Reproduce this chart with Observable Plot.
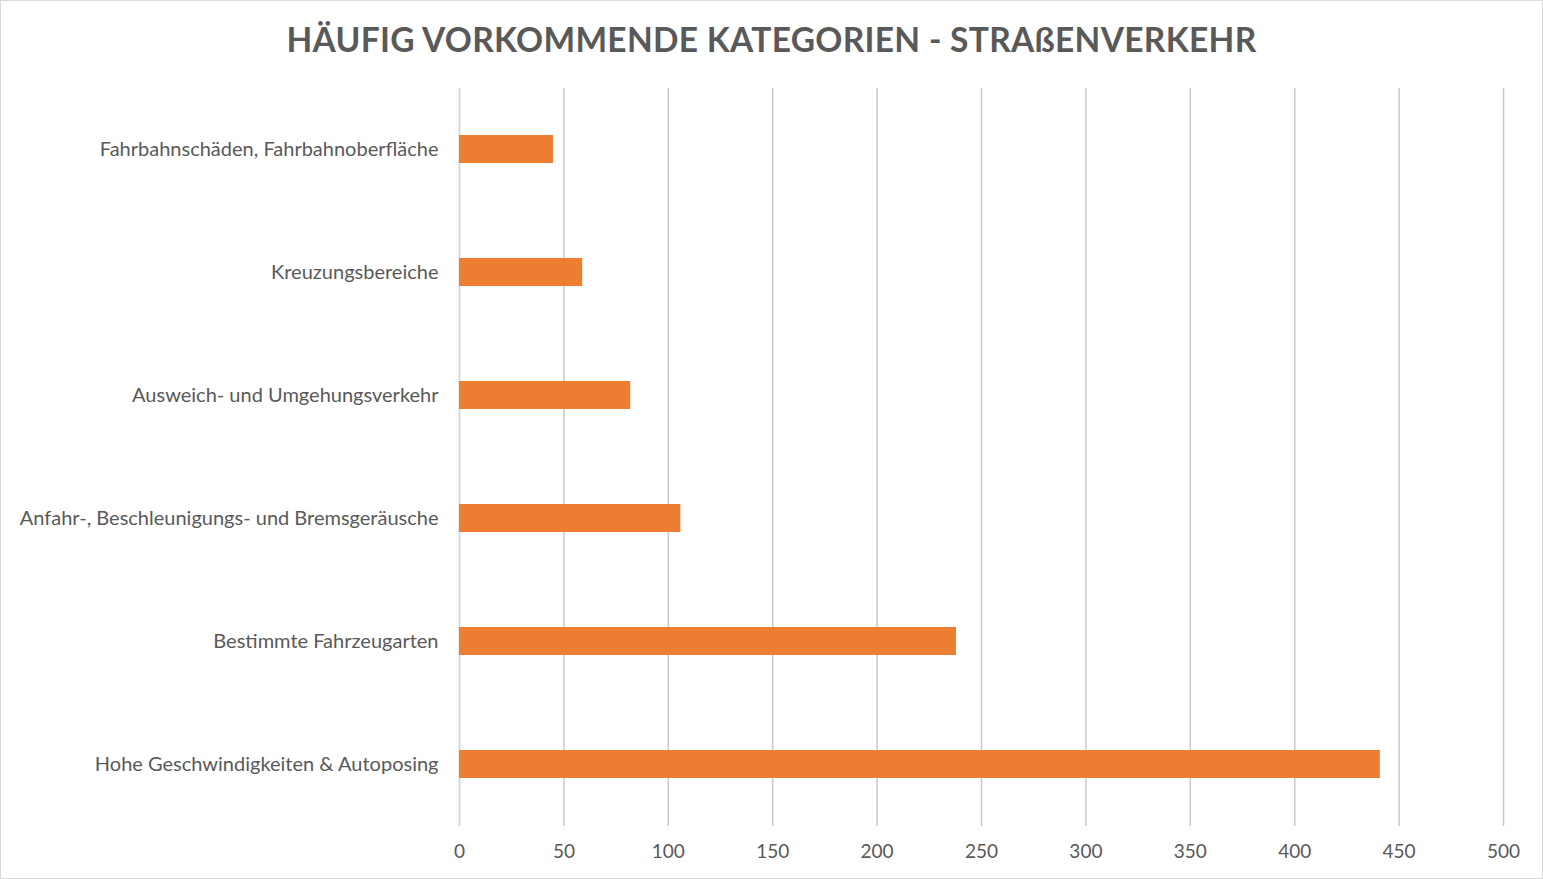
<!DOCTYPE html>
<html>
<head>
<meta charset="utf-8">
<script src="https://cdn.jsdelivr.net/npm/d3@7"></script>
<script src="https://cdn.jsdelivr.net/npm/@observablehq/plot@0.6"></script>
<style>
  html, body { margin: 0; padding: 0; background: #fff; }
  #frame { position: absolute; left: 0; top: 0; width: 1541px; height: 877px; border: 1px solid #d9d9d9; overflow: hidden; }
  #title { height: 80px; line-height: 76px; text-align: center; font-family: Lato, sans-serif; font-weight: 700; font-size: 33.5px; color: #595959; letter-spacing: 0.3px; }
  #chart svg { display: block; }
</style>
</head>
<body>
<div id="frame">
  <div id="title">HÄUFIG VORKOMMENDE KATEGORIEN - STRAßENVERKEHR</div>
  <div id="chart"></div>
</div>
<script>
const categories = [
  "Fahrbahnschäden, Fahrbahnoberfläche",
  "Kreuzungsbereiche",
  "Ausweich- und Umgehungsverkehr",
  "Anfahr-, Beschleunigungs- und Bremsgeräusche",
  "Bestimmte Fahrzeugarten",
  "Hohe Geschwindigkeiten & Autoposing"
];
const values = [45, 59, 82, 106, 238, 441];
const xTicks = [0, 50, 100, 150, 200, 250, 300, 350, 400, 450, 500];

const data = categories.map((c, i) => ({category: c, value: values[i]}));

const chart = Plot.plot({
  width: 1541,
  height: 796,
  marginTop: 7,
  marginBottom: 51,
  marginLeft: 458,
  marginRight: 39,
  style: {fontFamily: "Lato, sans-serif", fontSize: "20px", color: "#595959", background: "#fff"},
  x: {domain: [0, 500], ticks: xTicks, label: null, tickSize: 0},
  y: {domain: categories, label: null, tickSize: 0, paddingInner: 0.77, paddingOuter: 0.385},
  marks: [
    Plot.ruleX(xTicks, {x: d => d, stroke: d => d === 0 ? "#d9d9d9" : "#c8c8c8", strokeWidth: d => d === 0 ? 2 : 1.5}),
    Plot.barX(data, {x: "value", y: "category", fill: "#ED7D31"}),
    Plot.axisX({ticks: xTicks, tickSize: 0, tickPadding: 18, fontSize: 19, fill: "#595959", label: null}),
    Plot.axisY({tickSize: 0, tickPadding: 21, fill: "#595959", label: null})
  ]
});
document.getElementById("chart").appendChild(chart);
</script>
</body>
</html>
